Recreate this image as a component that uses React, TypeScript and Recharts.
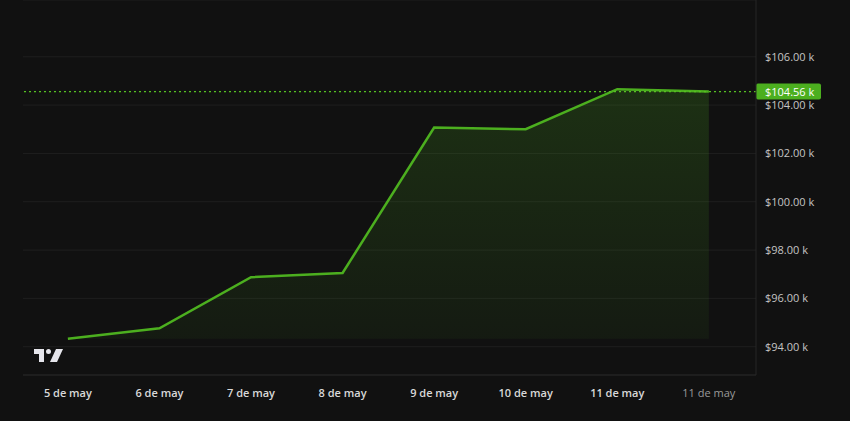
import React from "react";
import {
  ComposedChart, Area, XAxis, YAxis, CartesianGrid, ReferenceLine,
} from "recharts";

// ─────────────────────────────────────────
// Data
// ─────────────────────────────────────────
const DAY_LABELS = [
  "5 de may", "6 de may", "7 de may", "8 de may",
  "9 de may", "10 de may", "11 de may", "11 de may",
];
const PRICES_K = [94.33, 94.76, 96.88, 97.05, 103.07, 103.0, 104.66, 104.56];
const Y_TICKS = [94, 96, 98, 100, 102, 104, 106];
const LAST_PRICE = 104.56;

const data = PRICES_K.map((v, i) => ({ idx: i, price: v }));
const BASE = Math.min(...PRICES_K);

const BG = "#111111";
const GREEN = "#4caf1f";
const LINE = "#1f1f1f";
const FONT = "'Open Sans', sans-serif";

function XTick({ x, y, payload }: any) {
  const i = payload.value as number;
  const last = i === DAY_LABELS.length - 1;
  return (
    <text
      x={x} y={y + 14} textAnchor="middle"
      fill={last ? "#9a9a9a" : "#d9d9d9"}
      fontSize={11} fontWeight={last ? 400 : 600} fontFamily={FONT}
    >
      {DAY_LABELS[i]}
    </text>
  );
}

function YTick({ y, payload }: any) {
  return (
    <text x={765} y={y + 4} textAnchor="start" fill="#c4c4c4" fontSize={11} fontFamily={FONT}>
      {`$${payload.value.toFixed(2)} k`}
    </text>
  );
}

function PriceTag({ viewBox }: any) {
  const x = viewBox.x + viewBox.width;
  const y = viewBox.y;
  return (
    <g>
      <rect x={x} y={y - 8} width={65} height={16} rx={2} fill={GREEN} />
      <text x={x + 9} y={y + 4} fill="#ffffff" fontSize={11} fontFamily={FONT}>
        {`$${LAST_PRICE.toFixed(2)} k`}
      </text>
    </g>
  );
}

export default function App() {
  return (
    <div style={{ position: "fixed", left: 0, top: 0, width: 850, height: 421, background: BG }}>
      <ComposedChart
        width={850} height={421} data={data}
        margin={{ top: 0, right: 0, left: 23, bottom: 0 }}
      >
        <defs>
          <linearGradient id="fillG" x1="0" y1="0" x2="0" y2="1">
            <stop offset="0%" stopColor={GREEN} stopOpacity={0.2} />
            <stop offset="100%" stopColor={GREEN} stopOpacity={0.06} />
          </linearGradient>
        </defs>
        <CartesianGrid stroke={LINE} vertical={false} />
        <XAxis
          dataKey="idx" type="number" domain={[-0.49, 7.515]}
          ticks={DAY_LABELS.map((_, i) => i)} interval={0}
          height={46} axisLine={{ stroke: "#262626" }} tickLine={false}
          tick={<XTick />} allowDataOverflow
        />
        <YAxis
          orientation="right" domain={[92.83, 108.35]} ticks={Y_TICKS}
          width={94} axisLine={{ stroke: "#262626" }} tickLine={false}
          tick={<YTick />} allowDataOverflow
        />
        <Area
          type="linear" dataKey="price" baseValue={BASE}
          stroke={GREEN} strokeWidth={2.5} fill="url(#fillG)" fillOpacity={1}
          dot={false} activeDot={false} isAnimationActive={false}
        />
        <ReferenceLine
          y={LAST_PRICE} stroke="#56c221" strokeOpacity={1} strokeDasharray="2 3" strokeWidth={1.2}
          label={<PriceTag />} ifOverflow="visible"
        />
      </ComposedChart>
      {/* TradingView mark */}
      <svg style={{ position: "absolute", left: 34, top: 349 }} width={30} height={14}>
        <path d="M0 0 H10 V13 H5 V5 H0 Z" fill="#e6e6ec" />
        <circle cx={14.5} cy={2.5} r={2.5} fill="#e6e6ec" />
        <path d="M22 0 H29 L23 13 H16 Z" fill="#e6e6ec" />
      </svg>
    </div>
  );
}
